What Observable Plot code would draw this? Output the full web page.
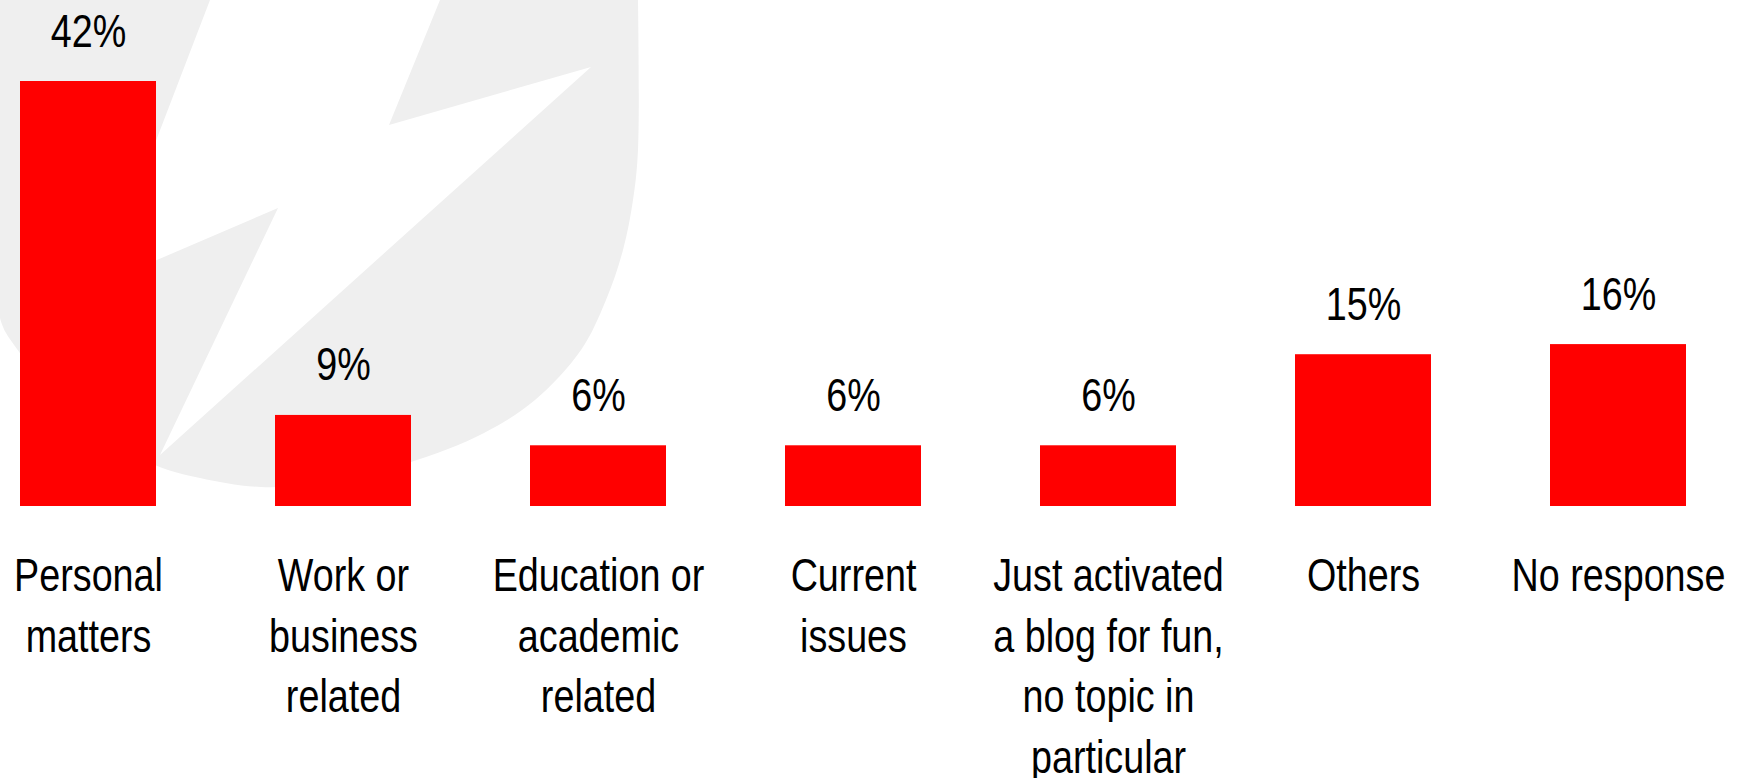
<!DOCTYPE html>
<html><head><meta charset="utf-8">
<script src="https://cdn.jsdelivr.net/npm/d3@7"></script>
<script src="https://cdn.jsdelivr.net/npm/@observablehq/plot@0.6"></script>
<style>
html,body{margin:0;padding:0;background:#fff;overflow:hidden}
#chart svg{display:block}
</style></head><body><div id="chart"></div>
<script>
// ---- data ----
const categories = ["Personal matters", "Work or business related", "Education or academic related", "Current issues", "Just activated a blog for fun, no topic in particular", "Others", "No response"];
const tickLabels = ["Personal\nmatters", "Work or\nbusiness\nrelated", "Education or\nacademic\nrelated", "Current\nissues", "Just activated\na blog for fun,\nno topic in\nparticular", "Others", "No response"];
const shares = [42, 9, 6, 6, 6, 15, 16];

// ---- background watermark (decoration, pixel space) ----
const watermarkCurve = [[638,0],[638,150],[633,200],[623,250],[606,300],[581,350],[535,400],[484,433],[408,463],[330,482],[261,487],[200,478],[155,465],[80,420],[6,333],[0,318]];
const watermarkBolt = [[210,0],[440,0],[389,125],[591,67],[160,455],[278,208],[101,284]];

const rows = categories.map((c, i) => ({category: c, label: tickLabels[i], share: shares[i]}));

const FONT = '"Liberation Sans Narrow", "Arial Narrow", "Liberation Sans", Arial, sans-serif';

const plot = Plot.plot({
  width: 1744,
  height: 778,
  marginTop: 81,
  marginBottom: 272,
  marginLeft: 0,
  marginRight: 0,
  style: {fontFamily: FONT, fontSize: "46px", color: "black", background: "transparent"},
  x: {domain: categories, range: [-40.6, 1745.6], paddingInner: 0.467, paddingOuter: 0.2335, axis: null},
  y: {domain: [0, 42], axis: null},
  marks: [
    Plot.barY(rows, {x: "category", y: "share", fill: "#ff0000"}),
    Plot.text(rows, {x: "category", y: "share", text: d => `${d.share}%`, dy: -35, lineAnchor: "bottom", fontSize: 46, fill: "black"}),
    Plot.text(rows, {x: "category", text: "label", frameAnchor: "bottom", lineAnchor: "top", dy: 42, lineHeight: 1.315, fontSize: 46, fill: "black"})
  ]
});

// condense the text horizontally (narrow face as in the reference)
const squeeze = 0.82;
plot.querySelectorAll("text").forEach(t => {
  const tr = t.getAttribute("transform") || "";
  const x = +(t.getAttribute("x") || 0);
  t.setAttribute("transform", `${tr} translate(${x},0) scale(${squeeze},1) translate(${-x},0)`);
});

// insert watermark behind marks
const ns = "http://www.w3.org/2000/svg";
const wg = document.createElementNS(ns, "g");
const p1 = document.createElementNS(ns, "path");
p1.setAttribute("d", d3.line().curve(d3.curveCatmullRom)(watermarkCurve) + "L0,0Z");
p1.setAttribute("fill", "#efefef");
const p2 = document.createElementNS(ns, "path");
p2.setAttribute("d", d3.line()(watermarkBolt) + "Z");
p2.setAttribute("fill", "#ffffff");
wg.appendChild(p1);
wg.appendChild(p2);
const firstG = plot.querySelector("g");
plot.insertBefore(wg, firstG);

document.getElementById("chart").appendChild(plot);
</script>
</body></html>
